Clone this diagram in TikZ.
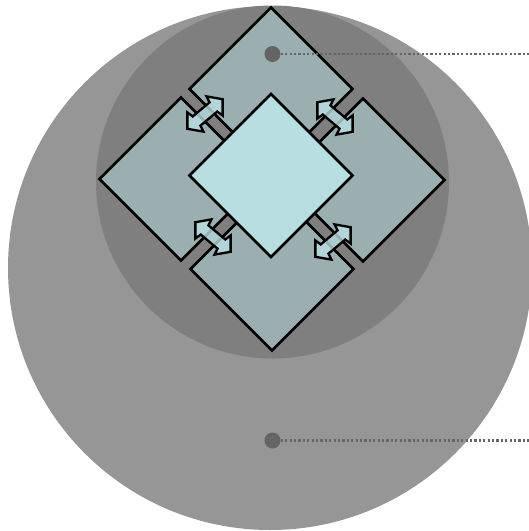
\documentclass[tikz,border=0pt]{standalone}
\usetikzlibrary{shapes.geometric}
\definecolor{lightdisc}{HTML}{969696}
\definecolor{darkdisc}{HTML}{7F7F7F}
\definecolor{outerfill}{HTML}{9BAEB0}
\definecolor{innerfill}{HTML}{B9DEE2}
\definecolor{dotfill}{HTML}{646464}
\definecolor{leader}{HTML}{666666}
\tikzset{
  disc/.style={circle, inner sep=0pt, draw=none},
  outerdiam/.style={diamond, aspect=1, inner sep=0pt, minimum width=164pt, minimum height=164pt,
    draw=black, line width=2.7pt, fill=outerfill, line join=miter},
  innerdiam/.style={diamond, aspect=1, inner sep=0pt, minimum width=164pt, minimum height=164pt,
    draw=black, line width=2.7pt, fill=innerfill, line join=miter},
  arrowbody/.style={draw=black, line width=2.3pt, fill=innerfill, fill opacity=0.8, draw opacity=1, line join=miter},
  marker/.style={circle, inner sep=0pt, minimum size=16pt, fill=dotfill},
  leaderline/.style={draw=leader, line width=2.4pt, dash pattern=on 2.3pt off 2.1pt},
  dbarrow/.pic={
    \path[arrowbody] (-23,0) -- (-12.5,12.5) -- (-11,6) -- (11,6) -- (12.5,12.5) -- (23,0)
      -- (12.5,-12.5) -- (11,-6) -- (-11,-6) -- (-12.5,-12.5) -- cycle;
    \coordinate (-c) at (0,0);
  }
}
\begin{document}
\begin{tikzpicture}[x=1pt,y=-1pt]
\useasboundingbox (0,0) rectangle (529,531);
\node[disc, minimum size=524pt, fill=lightdisc] (outer) at (270,268) {};
\node[disc, minimum size=353pt, fill=darkdisc] (inner) at (272.5,182) {};
% outer diamonds
\node[outerdiam] (top) at (271,89) {};
\node[outerdiam] (left) at (181,179) {};
\node[outerdiam] (right) at (363,180) {};
\node[outerdiam] (bottom) at (272,269) {};
% arrows
\pic[rotate=40] (a1) at (205,114) {dbarrow};
\pic[rotate=-40] (a2) at (335,117) {dbarrow};
\pic[rotate=-40] (a3) at (213,237) {dbarrow};
\pic[rotate=40] (a4) at (333,242) {dbarrow};
% centre diamond
\node[innerdiam] (centre) at (271,175.5) {};
% markers and leader lines
\node[marker] (d1) at (272.5,54) {};
\node[marker] (d2) at (272.5,440.5) {};
\coordinate (e1) at (529,54);
\coordinate (e2) at (529,440.5);
\draw[leaderline] (d1.east) -- (e1);
\draw[leaderline] (d2.east) -- (e2);
\end{tikzpicture}
\end{document}
